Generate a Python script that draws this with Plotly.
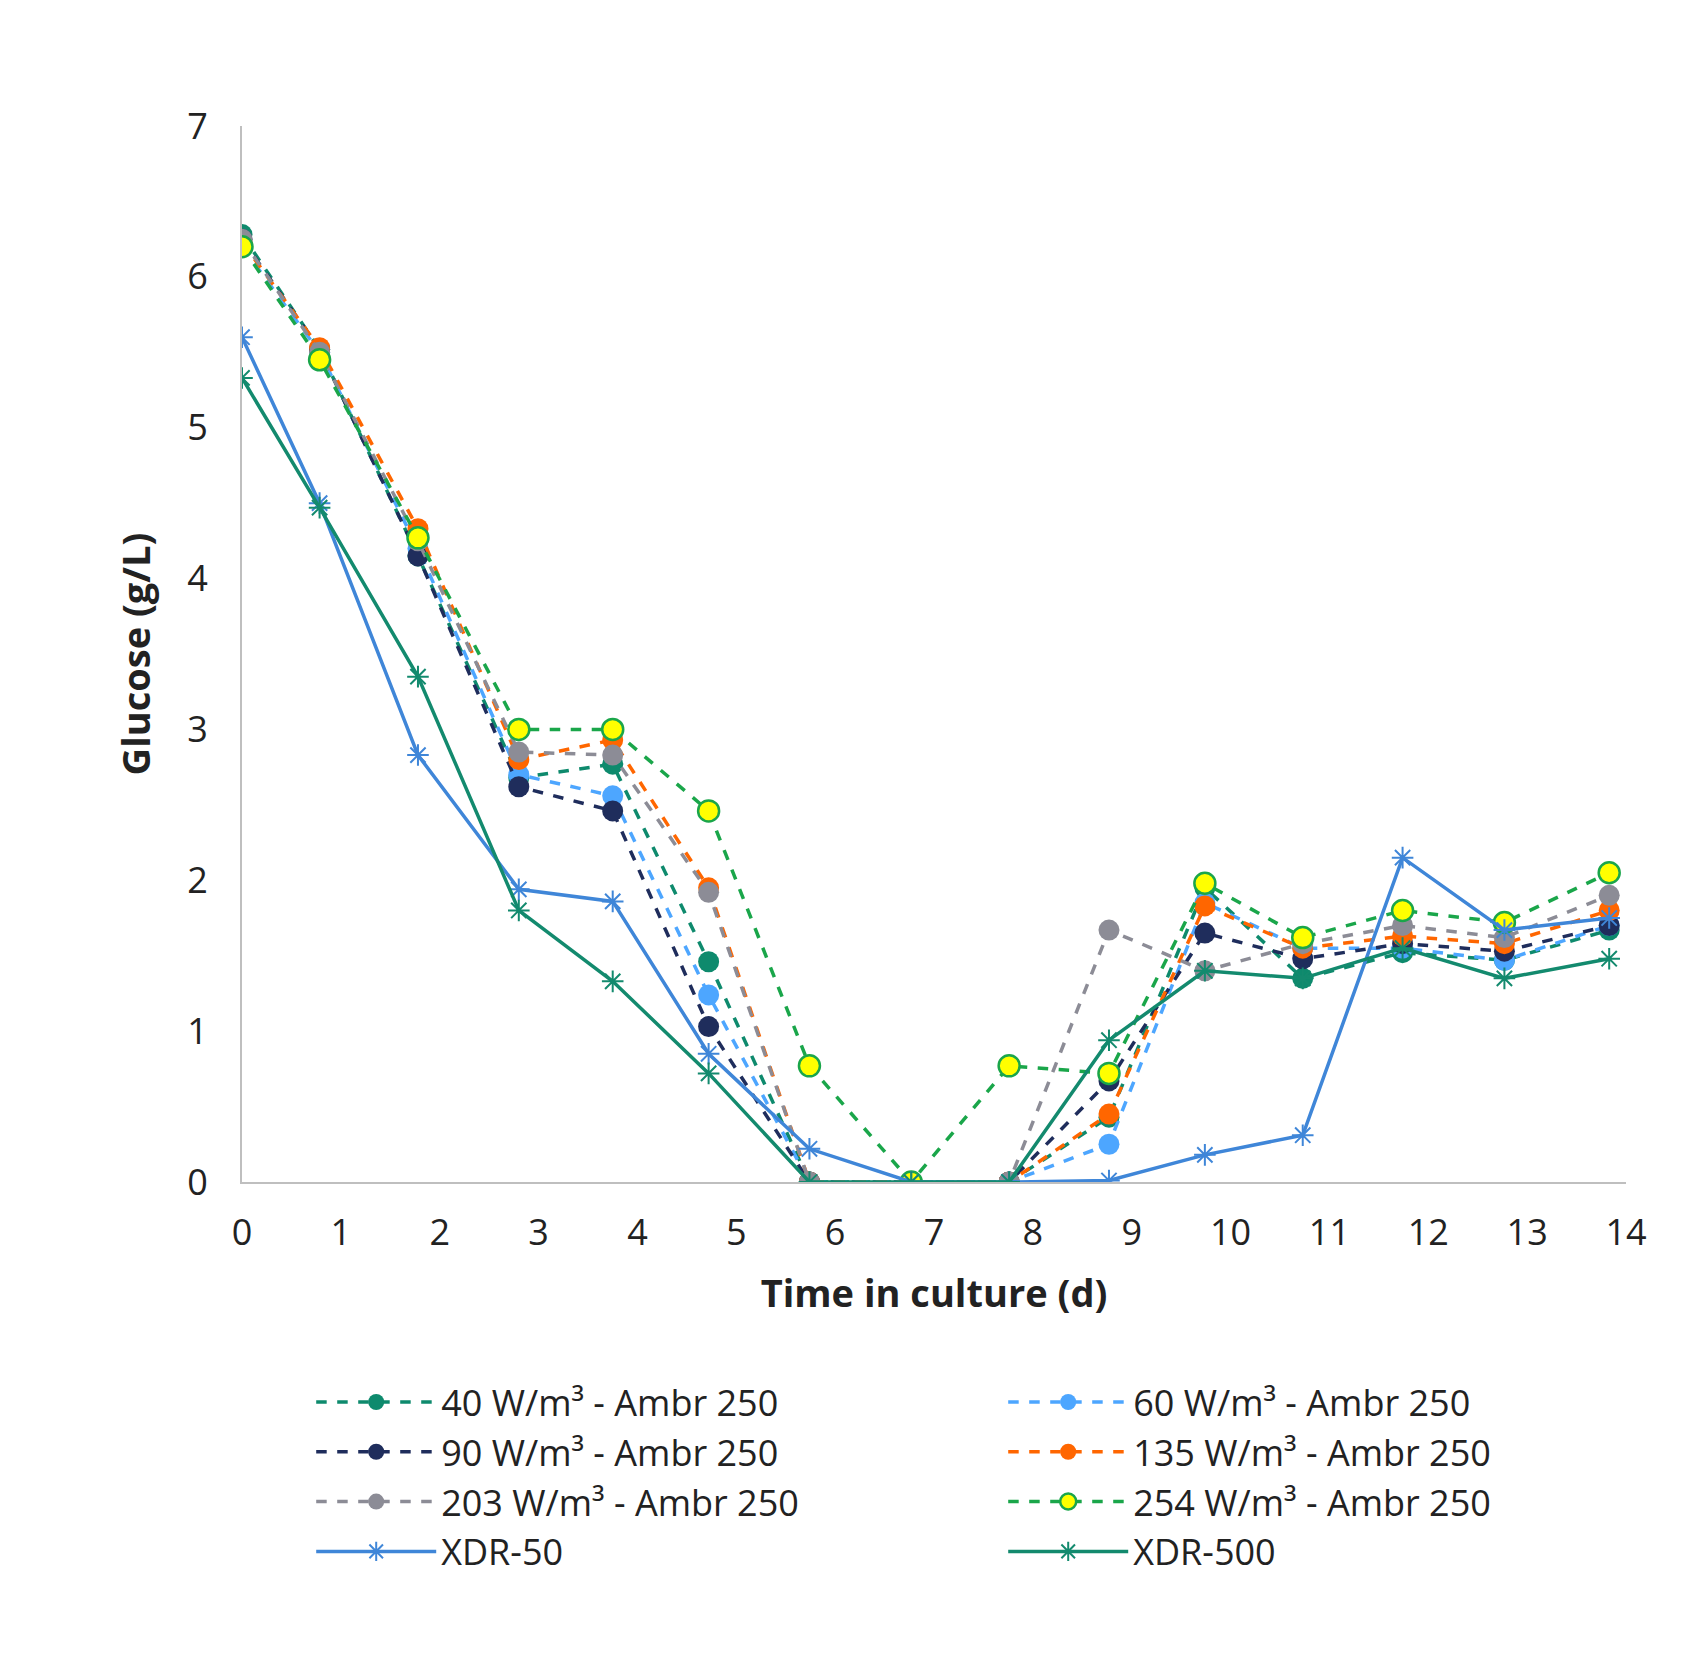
import plotly.graph_objects as go

days = [0, 0.785, 1.78, 2.80, 3.75, 4.72, 5.74, 6.77, 7.76, 8.77, 9.74, 10.73, 11.74, 12.77, 13.83]
w40 = [6.28, 5.52, 4.15, 2.68, 2.77, 1.46, 0, 0, 0, 0.43, 1.95, 1.35, 1.52, 1.47, 1.67]
w60 = [6.2, 5.5, 4.2, 2.7, 2.56, 1.24, 0, 0, 0, 0.25, 1.85, 1.55, 1.55, 1.47, 1.7]
w90 = [6.25, 5.52, 4.15, 2.62, 2.46, 1.03, 0, 0, 0, 0.67, 1.65, 1.48, 1.58, 1.53, 1.7]
w135 = [6.23, 5.53, 4.33, 2.8, 2.93, 1.95, 0, 0, 0, 0.45, 1.83, 1.55, 1.63, 1.58, 1.8]
w203 = [6.25, 5.5, 4.25, 2.85, 2.83, 1.92, 0, 0, 0, 1.67, 1.4, 1.58, 1.7, 1.62, 1.9]
w254 = [6.2, 5.45, 4.27, 3.0, 3.0, 2.46, 0.77, 0, 0.77, 0.72, 1.98, 1.62, 1.8, 1.72, 2.05]
xdr50 = [5.6, 4.5, 2.83, 1.94, 1.86, 0.85, 0.22, 0, 0, 0.01, 0.18, 0.31, 2.15, 1.67, 1.75]
xdr500 = [5.33, 4.47, 3.35, 1.8, 1.33, 0.72, 0, 0, 0, 0.94, 1.4, 1.35, 1.55, 1.35, 1.48]

fig = go.Figure()
def add(name, y, color, dash, marker):
    fig.add_trace(go.Scatter(x=days, y=y, name=name, mode="lines+markers",
                             line=dict(color=color, width=3.5, dash=dash), marker=marker))

add("40 W/m³ - Ambr 250", w40, "#0e8a6d", "dash", dict(color="#0e8a6d", size=21, symbol="circle"))
add("60 W/m³ - Ambr 250", w60, "#4da6ff", "dash", dict(color="#4da6ff", size=21, symbol="circle"))
add("90 W/m³ - Ambr 250", w90, "#1f2d5c", "dash", dict(color="#1f2d5c", size=21, symbol="circle"))
add("135 W/m³ - Ambr 250", w135, "#ff6600", "dash", dict(color="#ff6600", size=21, symbol="circle"))
add("203 W/m³ - Ambr 250", w203, "#8c8c96", "dash", dict(color="#8c8c96", size=21, symbol="circle"))
add("254 W/m³ - Ambr 250", w254, "#1aa64a", "dash", dict(color="#ffff00", size=21, symbol="circle", line=dict(color="#1aa64a", width=2.5)))
add("XDR-50", xdr50, "#3f86d8", "solid", dict(color="#3f86d8", size=18, symbol="asterisk-open", line=dict(color="#3f86d8", width=2)))
add("XDR-500", xdr500, "#138a6e", "solid", dict(color="#138a6e", size=18, symbol="asterisk-open", line=dict(color="#138a6e", width=2)))

fig.update_layout(
    width=1682, height=1654, plot_bgcolor="white", paper_bgcolor="white",
    font=dict(family="Open Sans", size=36, color="#222"),
    margin=dict(l=234, r=64, t=118, b=480, autoexpand=False),
    xaxis=dict(range=[0, 14], dtick=1, showgrid=False, showline=True, linecolor="#bfbfbf", linewidth=2,
               ticks="", ticklabelstandoff=18, title=dict(text="<b>Time in culture (d)</b>", font=dict(size=38), standoff=25), zeroline=False),
    yaxis=dict(range=[0, 7], dtick=1, showgrid=False, showline=True, linecolor="#bfbfbf", linewidth=2,
               ticks="", ticklabelstandoff=25, title=dict(text="<b>Glucose (g/L)</b>", font=dict(size=38), standoff=25), zeroline=False),
    legend=dict(orientation="h", x=0.05, y=-0.18, yanchor="top", xanchor="left",
                entrywidth=0.5, entrywidthmode="fraction", font=dict(size=36), itemwidth=120, tracegroupgap=0),
)
fig.write_html("out.html")
